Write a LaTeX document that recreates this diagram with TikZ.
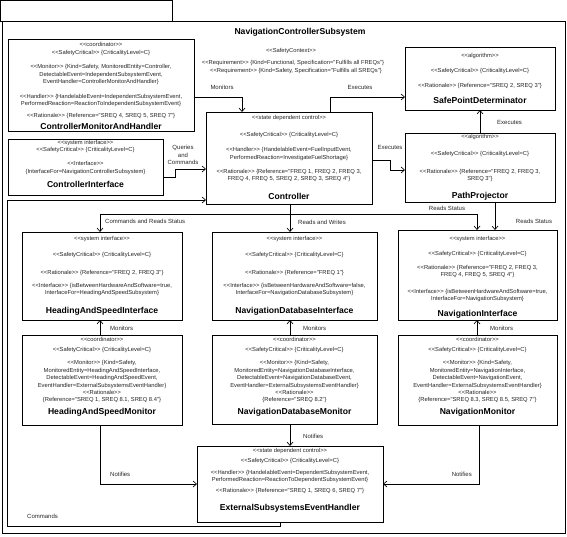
\documentclass[tikz,border=0pt]{standalone}
\usepackage{fontspec}
\setmainfont{Liberation Sans}[Ligatures=TeXOff]
\usetikzlibrary{arrows.meta}
\newcounter{tl}
\newcommand\gl[1]{<<#1>>}
\newcommand\tx[3]{\stepcounter{tl}\node[txt] (t\arabic{tl}) at (#1,#2) {#3};}
\newcommand\ttx[3]{\stepcounter{tl}\node[ttl] (t\arabic{tl}) at (#1,#2) {#3};}
\newcommand\bx[5]{\node[box, minimum width={(#4-#2)*1pt}, minimum height={(#5-#3)*1pt}] (#1) at ({(#2+#4)/2},{(#3+#5)/2}) {};}
\begin{document}
\begin{tikzpicture}[x=1pt,y=-1pt,
  frame/.style={draw=black, line width=0.7pt},
  box/.style={draw=black, line width=0.7pt, fill=white, inner sep=0pt, outer sep=0pt},
  txt/.style={inner sep=0pt, font=\fontsize{5.8}{6.8}\selectfont, text=black!85, text height=4.1pt, text depth=1.3pt},
  ttl/.style={inner sep=0pt, font=\fontsize{8.6}{10}\selectfont\bfseries, text height=6.3pt, text depth=1.8pt},
  lbl/.style={inner sep=0pt, font=\fontsize{6}{7}\selectfont, text=black!85, text height=4.3pt, text depth=1.4pt},
  dep/.style={draw=black, line width=0.65pt, -{Straight Barb[length=3.5pt,width=6pt]}}]
\useasboundingbox (0,0) rectangle (567,537);
% package frame
\draw[frame] (0.5,0.5) rectangle (172,21);
\draw[frame] (2,21) rectangle (565.5,533);
% header
\ttx{300}{32}{NavigationControllerSubsystem}
\tx{291}{51}{\gl{SafetyContext}}
\tx{293}{63}{\gl{Requirement} \{Kind=Functional, Specification="Fulfills all FREQs"\}}
\tx{296}{71}{\gl{Requirement} \{Kind=Safety, Specification="Fulfills all SREQs"\}}
% boxes
\bx{cmh}{8}{39}{194}{131}
\bx{ci}{8}{139}{163}{195}
\bx{ctrl}{206}{112}{372}{204}
\bx{spd}{405}{47}{555}{110}
\bx{pp}{405}{133}{555}{202}
\bx{hsi}{22}{232}{182}{320}
\bx{ndi}{212}{232}{377}{320}
\bx{ni}{398}{230}{557}{320}
\bx{hsm}{22}{335}{182}{425}
\bx{ndm}{212}{335}{377}{424}
\bx{nm}{398}{335}{557}{425}
\bx{ext}{197}{446}{383}{522}
% ControllerMonitorAndHandler
\tx{101}{45}{\gl{coordinator}}
\tx{101}{53}{\gl{SafetyCritical} \{CriticalityLevel=C\}}
\tx{101}{67}{\gl{Monitor} \{Kind=Safety, MonitoredEntity=Controller,}
\tx{101}{75}{DetectableEvent=IndependentSubsystemEvent,}
\tx{101}{82}{EventHandler=ControllerMonitorAndHandler\}}
\tx{101}{97}{\gl{Handler} \{HandelableEvent=IndependentSubsystemEvent,}
\tx{101}{104}{PerformedReaction=ReactionToIndependentSubsystemEvent\}}
\tx{101}{116}{\gl{Rationale} \{Reference="SREQ 4, SREQ 5, SREQ 7"\}}
\ttx{101}{127}{ControllerMonitorAndHandler}
% ControllerInterface
\tx{85.5}{143}{\gl{system interface}}
\tx{85.5}{150}{\gl{SafetyCritical} \{CriticalityLevel=C\}}
\tx{85.5}{164}{\gl{Interface}}
\tx{85.5}{172}{\{InterfaceFor=NavigationControllerSubsystem\}}
\ttx{85.5}{185}{ControllerInterface}
% Controller
\tx{289}{118}{\gl{state dependent control}}
\tx{289}{135}{\gl{SafetyCritical} \{CriticalityLevel=C\}}
\tx{289}{150}{\gl{Handler} \{HandelableEvent=FuelInputEvent,}
\tx{289}{158}{PerformedReaction=InvestigateFuelShortage\}}
\tx{289}{172}{\gl{Rationale} \{Reference="FREQ 1, FREQ 2, FREQ 3,}
\tx{289}{179}{FREQ 4, FREQ 5, SREQ 2, SREQ 3, SREQ 4"\}}
\ttx{289}{197}{Controller}
% SafePointDeterminator
\tx{480}{56}{\gl{algorithm}}
\tx{480}{71}{\gl{SafetyCritical} \{CriticalityLevel=C\}}
\tx{480}{86}{\gl{Rationale} \{Reference="SREQ 2, SREQ 3"\}}
\ttx{480}{101}{SafePointDeterminator}
% PathProjector
\tx{480}{137}{\gl{algorithm}}
\tx{480}{154}{\gl{SafetyCritical} \{CriticalityLevel=C\}}
\tx{480}{172}{\gl{Rationale} \{Reference="FREQ 2, FREQ 3,}
\tx{480}{179}{SREQ 3"\}}
\ttx{480}{196}{PathProjector}
% HeadingAndSpeedInterface
\tx{102}{239}{\gl{system interface}}
\tx{102}{255}{\gl{SafetyCritical} \{CriticalityLevel=C\}}
\tx{102}{273}{\gl{Rationale} \{Reference="FREQ 2, FREQ 3"\}}
\tx{102}{286}{\gl{Interface} \{isBetweenHardwareAndSoftware=true,}
\tx{102}{293}{InterfaceFor=HeadingAndSpeedSubsystem\}}
\ttx{102}{311}{HeadingAndSpeedInterface}
% NavigationDatabaseInterface
\tx{294.5}{239}{\gl{system interface}}
\tx{294.5}{255}{\gl{SafetyCritical} \{CriticalityLevel=C\}}
\tx{294.5}{273}{\gl{Rationale} \{Reference="FREQ 1"\}}
\tx{294.5}{286}{\gl{Interface} \{isBetweenHardwareAndSoftware=false,}
\tx{294.5}{293}{InterfaceFor=NavigationDatabaseSubsystem\}}
\ttx{294.5}{311}{NavigationDatabaseInterface}
% NavigationInterface
\tx{477.5}{239}{\gl{system interface}}
\tx{477.5}{254}{\gl{SafetyCritical} \{CriticalityLevel=C\}}
\tx{477.5}{268}{\gl{Rationale} \{Reference="FREQ 2, FREQ 3,}
\tx{477.5}{275}{FREQ 4, FREQ 5, SREQ 4"\}}
\tx{477.5}{292}{\gl{Interface} \{isBetweenHardwareAndSoftware=true,}
\tx{477.5}{299}{InterfaceFor=NavigationSubsystem\}}
\ttx{477.5}{314}{NavigationInterface}
% HeadingAndSpeedMonitor
\tx{102}{340}{\gl{coordinator}}
\tx{102}{350}{\gl{SafetyCritical} \{CriticalityLevel=C\}}
\tx{102}{363}{\gl{Monitor} \{Kind=Safety,}
\tx{102}{371}{MonitoredEntity=HeadingAndSpeedInterface,}
\tx{102}{378}{DetectableEvent=HeadingAndSpeedEvent,}
\tx{102}{386}{EventHandler=ExternalSubsystemsEventHandler\}}
\tx{102}{393}{\gl{Rationale}}
\tx{102}{400}{\{Reference="SREQ 1, SREQ 8.1, SREQ 8.4"\}}
\ttx{102}{412}{HeadingAndSpeedMonitor}
% NavigationDatabaseMonitor
\tx{294.5}{340}{\gl{coordinator}}
\tx{294.5}{350}{\gl{SafetyCritical} \{CriticalityLevel=C\}}
\tx{294.5}{363}{\gl{Monitor} \{Kind=Safety,}
\tx{294.5}{371}{MonitoredEntity=NavigationDatabaseInterface,}
\tx{294.5}{378}{DetectableEvent=NavigationDatabaseEvent,}
\tx{294.5}{386}{EventHandler=ExternalSubsystemsEventHandler\}}
\tx{294.5}{393}{\gl{Rationale}}
\tx{294.5}{400}{\{Reference="SREQ 8.2"\}}
\ttx{294.5}{412}{NavigationDatabaseMonitor}
% NavigationMonitor
\tx{477.5}{340}{\gl{coordinator}}
\tx{477.5}{350}{\gl{SafetyCritical} \{CriticalityLevel=C\}}
\tx{477.5}{363}{\gl{Monitor} \{Kind=Safety,}
\tx{477.5}{371}{MonitoredEntity=NavigationInterface,}
\tx{477.5}{378}{DetectableEvent=NavigationEvent,}
\tx{477.5}{386}{EventHandler=ExternalSubsystemsEventHandler\}}
\tx{477.5}{393}{\gl{Rationale}}
\tx{477.5}{400}{\{Reference="SREQ 8.3, SREQ 8.5, SREQ 7"\}}
\ttx{477.5}{412}{NavigationMonitor}
% ExternalSubsystemsEventHandler
\tx{290}{451}{\gl{state dependent control}}
\tx{290}{461}{\gl{SafetyCritical} \{CriticalityLevel=C\}}
\tx{290}{473}{\gl{Handler} \{HandelableEvent=DependentSubsystemEvent,}
\tx{290}{480}{PerformedReaction=ReactionToDependentSubsystemEvent\}}
\tx{290}{491}{\gl{Rationale} \{Reference="SREQ 1, SREQ 6, SREQ 7"\}}
\ttx{290}{508}{ExternalSubsystemsEventHandler}
% turning points
\coordinate (m1) at (242,97);
\coordinate (e1) at (330,97);
\coordinate (e2) at (480,0);
\coordinate (e3a) at (390,160);
\coordinate (e3b) at (390,170);
\coordinate (q1) at (175,177);
\coordinate (q2) at (175,169);
\coordinate (c1) at (280,526);
\coordinate (c2) at (7,526);
\coordinate (c3) at (7,200);
\coordinate (r0) at (290,214);
\coordinate (r1) at (100,214);
\coordinate (r2) at (477,214);
\coordinate (x495) at (495,0);
\coordinate (x100) at (100,0);
\coordinate (x290) at (290,0);
\coordinate (x477) at (477,0);
\coordinate (n1) at (100,484);
\coordinate (n2) at (479,484);
% connectors
\draw[dep] (cmh.east |- m1) -- (m1) -- (ctrl.north -| m1);
\draw[dep] (ctrl.north -| e1) -- (e1) -- (spd.west |- e1);
\draw[dep] (pp.north -| e2) -- (spd.south -| e2);
\draw[dep] (ctrl.east |- e3a) -- (e3a) -- (e3b) -- (pp.west |- e3b);
\draw[dep] (ci.east |- q1) -- (q1) -- (q2) -- (ctrl.west |- q2);
\draw[dep] (ext.south -| c1) -- (c1) -- (c2) -- (c3) -- (ctrl.west |- c3);
\draw[dep] (ctrl.south -| r0) -- (r0) -- (r1) -- (hsi.north -| r1);
\draw[dep] (ctrl.south -| r0) -- (ndi.north -| r0);
\draw[dep] (r0) -- (r2) -- (ni.north -| r2);
\draw[dep] (pp.south -| x495) -- (ni.north -| x495);
\draw[dep] (hsm.north -| x100) -- (hsi.south -| x100);
\draw[dep] (ndm.north -| x290) -- (ndi.south -| x290);
\draw[dep] (nm.north -| x477) -- (ni.south -| x477);
\draw[dep] (ndm.south -| x290) -- (ext.north -| x290);
\draw[dep] (hsm.south -| n1) -- (n1) -- (ext.west |- n1);
\draw[dep] (nm.south -| n2) -- (n2) -- (ext.east |- n2);
% connector labels
\node[lbl] (l1) at (222,88) {Monitors};
\node[lbl] (l2) at (360,88) {Executes};
\node[lbl, anchor=west] (l3) at (497,123) {Executes};
\node[lbl] (l4) at (390,148) {Executes};
\node[lbl, align=center, font=\fontsize{6}{7.5}\selectfont, text height=, text depth=] (l5) at (183,155) {Queries\\and\\Commands};
\node[lbl, anchor=west] (l6) at (105,222) {Commands and Reads Status};
\node[lbl, anchor=west] (l7) at (298,223) {Reads and Writes};
\node[lbl] (l8) at (447,209) {Reads Status};
\node[lbl] (l9) at (534,222) {Reads Status};
\node[lbl, anchor=west] (l10) at (110,329) {Monitors};
\node[lbl, anchor=west] (l11) at (303,329) {Monitors};
\node[lbl, anchor=west] (l12) at (490,329) {Monitors};
\node[lbl, anchor=west] (l13) at (303,437) {Notifies};
\node[lbl, anchor=west] (l14) at (110,475) {Notifies};
\node[lbl, anchor=east] (l15) at (472,475) {Notifies};
\node[lbl, anchor=west] (l16) at (27,517) {Commands};
\end{tikzpicture}
\end{document}
